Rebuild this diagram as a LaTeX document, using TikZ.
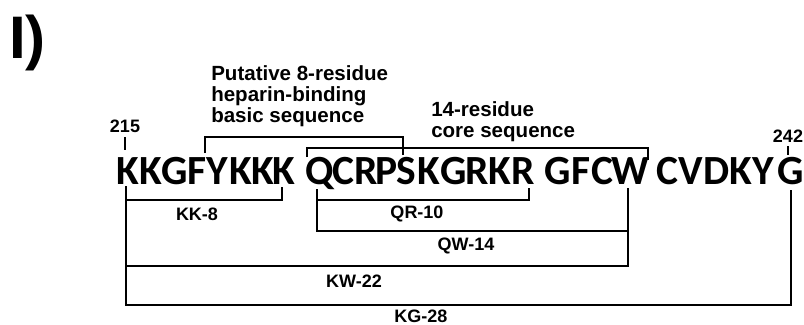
\documentclass[tikz,border=0pt]{standalone}
\usepackage{fontspec}
\setmainfont{Liberation Sans}
\newfontfamily\seqfont{Carlito}
\usetikzlibrary{positioning}

\begin{document}
\begin{tikzpicture}[x=0.025cm,y=-0.025cm,
  bracket/.style={line width=1.2pt},
  res/.style={inner sep=0pt,anchor=base,font=\seqfont\bfseries\fontsize{29.5}{31}\selectfont},
  lab/.style={inner sep=0pt,font=\bfseries\fontsize{12.8}{14}\selectfont},
  note/.style={inner sep=0pt,anchor=north west,align=left,font=\bfseries\fontsize{14.6}{14.9}\selectfont}]
\useasboundingbox (0,0) rectangle (804,324);
\node[inner sep=0pt,anchor=base west,font=\bfseries\fontsize{42.7}{44}\selectfont] (panel) at (9,58) {I)};

% the sequence, residues 215--242
\foreach \n/\x/\r in {215/127.5/K, 216/150.5/K, 217/175/G, 218/197.5/F, 219/217/Y,
    220/241/K, 221/263/K, 222/283.5/K, 223/319.5/Q, 224/343/C, 225/366/R, 226/387/P,
    227/406.5/S, 228/428.5/K, 229/453.5/G, 230/477.5/R, 231/499.5/K, 232/523.5/R,
    233/557.5/G, 234/581.5/F, 235/602.5/C, 236/630/W, 237/667.5/C, 238/691/V,
    239/716.5/D, 240/741/K, 241/763.5/Y, 242/790.5/G}{
  \node[res] (r\n) at (\x,184.5) {\r};
}
\node[lab] (num215) at (125,126) {215};
\node[lab] (num242) at (788,136) {242};
\draw[bracket,shorten <=3pt,shorten >=5pt] (num215.south) -- (num215.south |- r215.north);
\draw[bracket,shorten <=2.5pt,shorten >=1.5pt] (num242.south) -- (num242.south |- r242.north);

% upper brackets
\node[note] (hepnote) at (211,65) {Putative 8-residue\\heparin-binding\\basic sequence};
\node[note] (corenote) at (431,101) {14-residue\\core sequence};
\coordinate (hepL) at (205,153);
\coordinate (hepR) at (403,155);
\coordinate (coreL) at (307,157);
\coordinate (coreR) at (648,160);
\coordinate (lvHep) at (0,137);
\coordinate (lvCore) at (0,148);
\draw[bracket] (hepL) -- (hepL |- lvHep) -| (hepR);
\draw[bracket] (coreL) -- (coreL |- lvCore) -| (coreR);

% lower brackets (peptides)
\coordinate (K215) at (126,186);
\coordinate (K222) at (282,187);
\coordinate (Q223) at (317,189);
\coordinate (R232) at (529,188);
\coordinate (W236) at (628,188);
\coordinate (G242) at (791,190);
\foreach \a/\b/\lv in {K215/K222/200, Q223/R232/200, Q223/W236/231, K215/W236/266, K215/G242/305}{
  \draw[bracket] (\a) -- (\a |- 0,\lv) -| (\b);
}
\node[lab] (kk8) at (197,214) {KK-8};
\node[lab] (qr10) at (417,214) {QR-10};
\node[lab] (qw14) at (466,246) {QW-14};
\node[lab] (kw22) at (354,281) {KW-22};
\node[lab] (kg28) at (421,316) {KG-28};
\end{tikzpicture}
\end{document}
